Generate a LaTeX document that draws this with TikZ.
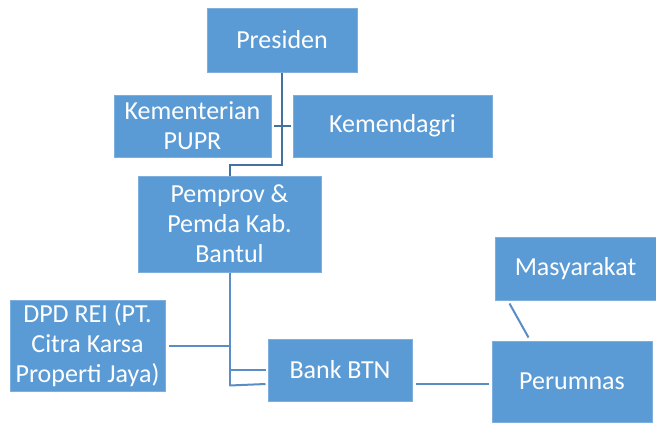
\documentclass[tikz,border=0pt]{standalone}
\usepackage{fontspec}
\setmainfont{Carlito}
\usetikzlibrary{calc}
\definecolor{boxblue}{HTML}{5B9BD5}
\definecolor{lineblue}{HTML}{4472A0}
\definecolor{lineblue2}{HTML}{5A8DC6}
\tikzset{
  box/.style={rectangle, fill=boxblue, draw=boxblue!80!white, line width=1pt,
    text=white, align=center, inner sep=0pt,
    font=\fontsize{26}{30}\selectfont},
  conn/.style={draw=lineblue, line width=2pt},
  conn2/.style={draw=lineblue2, line width=2pt}
}
\begin{document}
\begin{tikzpicture}[x=1pt,y=-1pt]
\useasboundingbox (0,0) rectangle (656,423);
\node[box, minimum width=150pt, minimum height=64pt] (pres) at (282,40) {Presiden};
\node[box, minimum width=157pt, minimum height=62pt] (kem) at (192.5,126) {Kementerian\\PUPR};
\node[box, minimum width=199pt, minimum height=62pt] (kemdag) at (392.5,126) {Kemendagri};
\node[box, minimum width=183pt, minimum height=96pt] (pemprov) at (229.5,224) {Pemprov \&\\Pemda Kab.\\Bantul};
\node[box, minimum width=155pt, minimum height=91pt] (dpd) at (87.5,345.5) {DPD REI (PT.\\Citra Karsa\\Properti Jaya)};
\node[box, minimum width=144pt, minimum height=62pt] (btn) at (340,370) {Bank BTN};
\node[box, minimum width=160pt, minimum height=81pt] (perum) at (572,381.5) {Perumnas};
\node[box, minimum width=161pt, minimum height=63pt] (masy) at (575.5,268.5) {Masyarakat};

\draw[conn] (pres.south) -- ++(0,92) -| (pemprov.north);
\draw[conn] ($(kem.east)+(2,0)$) -- ($(kemdag.west)+(-2,0)$);
\draw[conn2] (pemprov.south) -- ++(0,113) coordinate (trunkend);
\draw[conn2] ($(dpd.east)+(3,0)$) -- (pemprov.south |- dpd.east);
\draw[conn2] (pemprov.south |- btn.west) -- ($(btn.west)+(-2,0)$);
\draw[conn2] (trunkend) -- ($(btn.west)+(-2,14)$);
\draw[conn2] ($(btn.east)+(3,14)$) -- ($(perum.west)+(-3,2.5)$);
\draw[conn2] ($(masy.south west)+(15,3)$) -- ($(perum.north west)+(37,-3)$);
\end{tikzpicture}
\end{document}
